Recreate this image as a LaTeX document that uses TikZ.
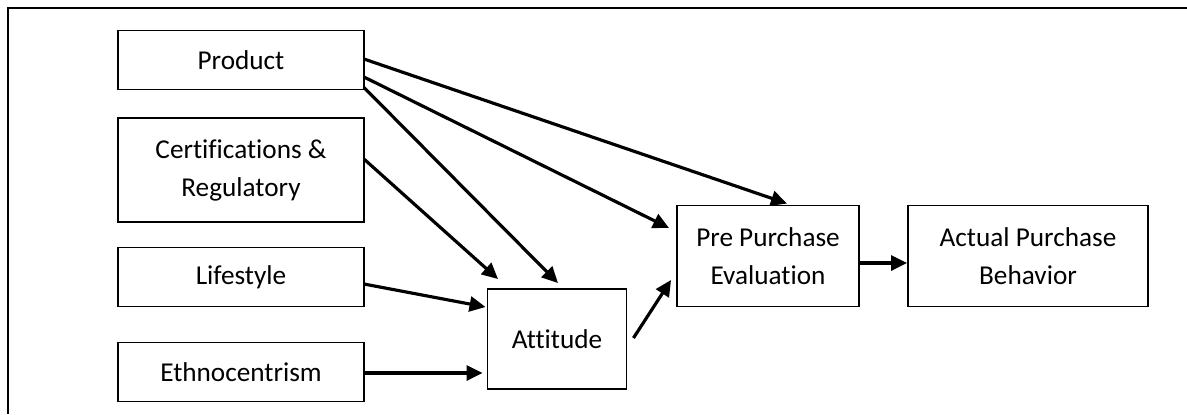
\documentclass[tikz,border=0pt]{standalone}
\usepackage{fontspec}
\setmainfont{Carlito}[Ligatures=NoCommon]
\usepackage{tikz}
\usetikzlibrary{arrows.meta}
\tikzstyle{block}=[
	rectangle,
	draw=black,
	line width=1.1pt,
	inner sep=0pt,
	align=center,
	font=\fontsize{15.5}{21.6}\selectfont
]

\begin{document}
\begin{tikzpicture}[x=0.02cm,y=-0.02cm,-{Triangle[length=0.32cm,width=0.3cm]},line width=1.8pt]
\useasboundingbox (0,0) rectangle (1187,414);

% Frame
\draw[-,line width=1.2pt] (1187,8) -- (8,8) -- (8,414);

% Product
\node[block,minimum width=4.92cm,minimum height=1.18cm] (prod) at (241,60){Product};

% Certifications
\node[block,minimum width=4.92cm,minimum height=2.08cm] (cert) at (241,170){Certifications \&\\Regulatory};

% Lifestyle
\node[block,minimum width=4.92cm,minimum height=1.18cm] (life) at (241,277){Lifestyle};

% Ethnocentrism
\node[block,minimum width=4.92cm,minimum height=1.18cm] (ethno) at (241,372){Ethnocentrism};

% Attitude
\node[block,minimum width=2.78cm,minimum height=2cm] (att) at (557,339){Attitude};

% Pre purchase evaluation
\node[block,minimum width=3.64cm,minimum height=2.02cm] (pre) at (768,256){Pre Purchase\\Evaluation};

% Actual purchase behavior
\node[block,minimum width=4.8cm,minimum height=2.02cm] (act) at (1028,256){Actual Purchase\\Behavior};

% Product to pre purchase evaluation
\draw ([shift={(-1,-1)}]prod.east) -- ([shift={(19,-1)}]pre.north);
\draw ([shift={(-1,17)}]prod.east) -- ([shift={(-7,-28)}]pre.west);

% Product to attitude
\draw ([shift={(-1,-3)}]prod.south east) -- ([shift={(1,-5)}]att.north);

% Certifications to attitude
\draw ([shift={(-1,-11)}]cert.east) -- ([shift={(-59,-9)}]att.north);

% Lifestyle to attitude
\draw ([shift={(-1,7)}]life.east) -- ([shift={(-1,-32)}]att.west);

% Ethnocentrism to attitude
\draw ([shift={(-1,1)}]ethno.east) -- ([shift={(-4,1)}]att.west |- ethno.east);

% Attitude to pre purchase evaluation
\draw ([shift={(6,-1)}]att.east) -- ([shift={(-5,24)}]pre.west);

% Pre purchase evaluation to actual purchase behavior
\draw ([shift={(-1,7)}]pre.east) -- ([shift={(0,7)}]act.west);

\end{tikzpicture}
\end{document}
